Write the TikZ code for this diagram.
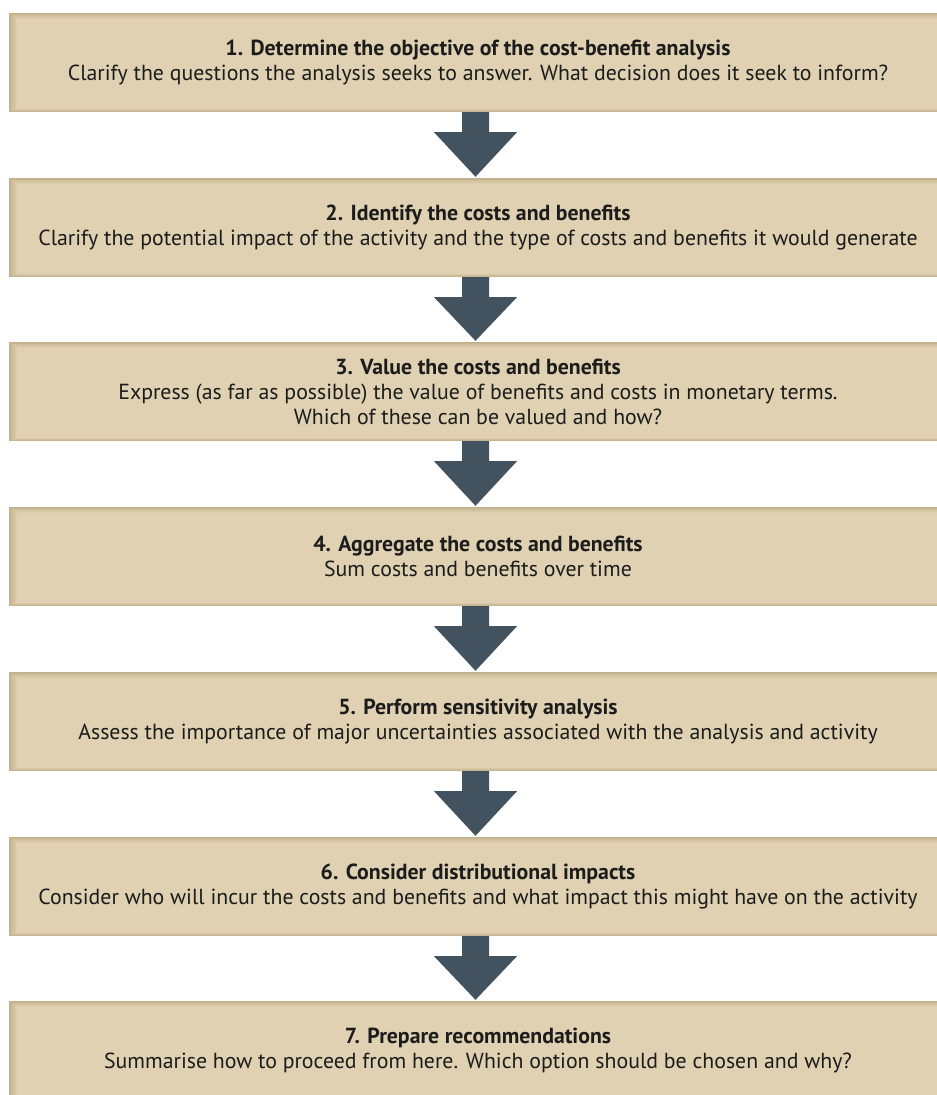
\documentclass[tikz,border=0pt]{standalone}
\usepackage{fontspec}
\setmainfont{PT Sans}
\usetikzlibrary{calc}
\definecolor{fillc}{HTML}{DFD1B1}
\definecolor{shadowc}{HTML}{C2B08C}
\definecolor{arrowc}{HTML}{43525F}
\definecolor{textc}{HTML}{1C1C1C}
\tikzset{
  stepbox/.style={minimum width=938pt, minimum height=99pt, inner sep=0pt,
    fill=shadowc, align=center, text=textc,
    font=\fontsize{21.8}{25}\selectfont,
    path picture={
      \foreach \i in {1,...,7}{
        \pgfmathsetmacro\p{\i*100/7}
        \fill[fillc!\p!shadowc]
          ([xshift=1.1*\i pt, yshift=0.5*\i pt]path picture bounding box.south west)
          rectangle ([xshift=-0.3*\i pt, yshift=-0.8*\i pt]path picture bounding box.north east);
      }
    }},
  flowarrow/.style={fill=arrowc, draw=none}
}
\newcommand{\ttl}[1]{\textbf{#1}}
\begin{document}
\begin{tikzpicture}[x=1pt,y=1pt]
\useasboundingbox (0,0) rectangle (937,-1095);
\clip (0,0) rectangle (937,-1095);
\fill[white] (0,0) rectangle (937,-1095);
\node[stepbox] (b1) at (478,-62.5) {\ttl{1. Determine the objective of the cost-benefit analysis}\\Clarify the questions the analysis seeks to answer. What decision does it seek to inform?};
\node[stepbox] (b2) at (478,-227.5) {\ttl{2. Identify the costs and benefits}\\Clarify the potential impact of the activity and the type of costs and benefits it would generate};
\node[stepbox] (b3) at (478,-391.5) {\ttl{3. Value the costs and benefits}\\Express (as far as possible) the value of benefits and costs in monetary terms.\\Which of these can be valued and how?};
\node[stepbox] (b4) at (478,-556.5) {\ttl{4. Aggregate the costs and benefits}\\Sum costs and benefits over time};
\node[stepbox] (b5) at (478,-721.5) {\ttl{5. Perform sensitivity analysis}\\Assess the importance of major uncertainties associated with the analysis and activity};
\node[stepbox] (b6) at (478,-886.5) {\ttl{6. Consider distributional impacts}\\Consider who will incur the costs and benefits and what impact this might have on the activity};
\node[stepbox] (b7) at (478,-1050.5) {\ttl{7. Prepare recommendations}\\Summarise how to proceed from here. Which option should be chosen and why?};
\foreach \s/\t in {b1/b2,b2/b3,b3/b4,b4/b5,b5/b6,b6/b7}{
  \coordinate (top) at ($(\s.south)+(-2.5,0)$);
  \coordinate (tip) at ($(\t.north)+(-2.5,1)$);
  \fill[flowarrow] ($(top)+(-13.5,0)$) -- ($(top)+(13.5,0)$) -- ($(top)+(13.5,-20)$)
    -- ($(top)+(41.5,-20)$) -- (tip) -- ($(top)+(-41.5,-20)$) -- ($(top)+(-13.5,-20)$) -- cycle;
}
\end{tikzpicture}
\end{document}
